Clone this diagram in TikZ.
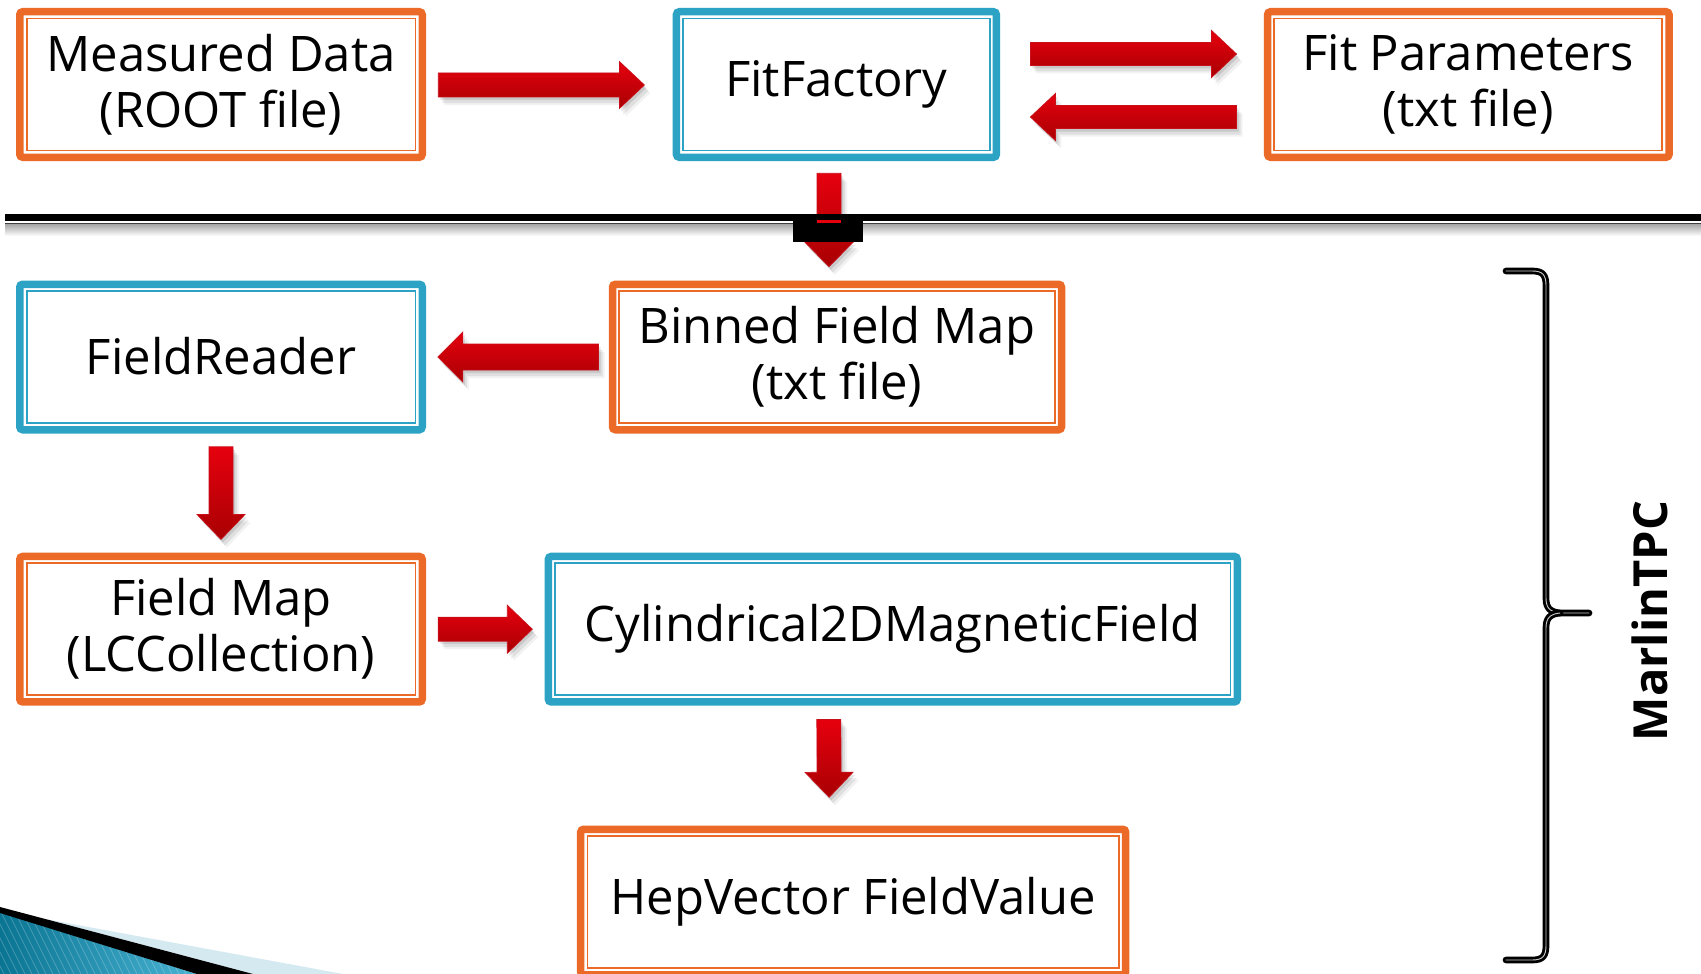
\documentclass[tikz,border=0pt]{standalone}
\usepackage{fontspec}
\setmainfont{Open Sans}
\usetikzlibrary{calc}
\definecolor{orng}{HTML}{EB6A27}
\definecolor{blu}{HTML}{2CA3C5}
\definecolor{redtop}{HTML}{E6000E}
\definecolor{redbot}{HTML}{A80003}
\definecolor{redline}{HTML}{C8101A}
\definecolor{teal1}{HTML}{0A7593}
\definecolor{teal2}{HTML}{48B2D2}
\definecolor{paleblue}{HTML}{D5E9F1}

\newcommand{\blockarrow}[4]{%
  % #1 start, #2 end, #3 shaft half width, #4 head half width
  \coordinate (ba-a) at #1;
  \coordinate (ba-b) at #2;
  \coordinate (ba-h) at ($(ba-b)!25pt!(ba-a)$);
  \foreach \sx/\sy/\op in {2/-3/0.10,4/-6/0.08,6/-8/0.05}{
  \fill[black, opacity=\op, transform canvas={shift={(\sx pt,\sy pt)}}]
    ($(ba-a)!#3pt!90:(ba-b)$) -- ($(ba-h)!#3pt!90:(ba-b)$) --
    ($(ba-h)!#4pt!90:(ba-b)$) -- (ba-b) --
    ($(ba-h)!#4pt!-90:(ba-b)$) -- ($(ba-h)!#3pt!-90:(ba-b)$) --
    ($(ba-a)!#3pt!-90:(ba-b)$) -- cycle;}
  \shade[arrowfill]
    ($(ba-a)!#3pt!90:(ba-b)$) -- ($(ba-h)!#3pt!90:(ba-b)$) --
    ($(ba-h)!#4pt!90:(ba-b)$) -- (ba-b) --
    ($(ba-h)!#4pt!-90:(ba-b)$) -- ($(ba-h)!#3pt!-90:(ba-b)$) --
    ($(ba-a)!#3pt!-90:(ba-b)$) -- cycle;
}

\begin{document}
\begin{tikzpicture}[x=1pt,y=-1pt,
  box/.style={draw=#1, line width=7.5pt, rounded corners=3pt, outer sep=0pt,
    inner sep=0pt, minimum height=145.5pt, align=center,
    font=\fontsize{49}{56}\selectfont},
  arrowfill/.style={top color=redtop, bottom color=redbot, draw=redline, line width=0.7pt, line join=miter},
  brace/.style={line width=2.9pt, double=white!80!black, double distance=0.9pt, line cap=round, line join=round}
]
\useasboundingbox (0,0) rectangle (1701,974);
\fill[white] (0,0) rectangle (1701,974);

% bottom-left decoration
\shade[left color=teal1, right color=teal2] (0,912) -- (197,974) -- (0,974) -- cycle;
\begin{scope}
  \clip (0,912) -- (197,974) -- (0,974) -- cycle;
  \foreach \i in {-40,-33,...,200}{
    \draw[white, opacity=0.22, line width=0.7pt] (\i,900) -- (\i+40,980);
  }
\end{scope}
\fill[paleblue] (45,919) -- (343,974) -- (253,974) -- cycle;
\fill[black] (0,907) -- (253,974) -- (197,974) -- (0,913) -- cycle;

% separator
\coordinate (sepL) at (5,217.5);
\coordinate (sepR) at (1701,217.5);
\shade[top color=black!35, bottom color=white] (5,224) rectangle (1701,236);
\draw[black, line width=7pt] (sepL) -- (sepR);
\draw[black!75, line width=1.8pt] ($(sepL)+(0,6)$) -- ($(sepR)+(0,6)$);

% boxes
\node[box=orng, minimum width=402.5pt] (md) at (221,84.5) {Measured Data\\(ROOT file)};
\node[box=blu, minimum width=320pt] (ff) at (836.4,84.5) {FitFactory};
\node[box=orng, minimum width=401.5pt] (fp) at (1468.3,84.5) {Fit Parameters\\(txt file)};
\node[box=blu, minimum width=402.5pt, text depth=0.24em] (fr) at (221,357) {FieldReader};
\node[box=orng, minimum width=449pt] (bfm) at (837,357) {Binned Field Map\\(txt file)};
\node[box=orng, minimum width=402.5pt] (fm) at (221,629.2) {Field Map\\(LCCollection)};
\node[box=blu, minimum width=689pt] (cyl) at (892.8,629.2) {Cylindrical2DMagneticField};
\node[box=orng, minimum width=545pt] (hep) at (853.2,902) {HepVector FieldValue};

\foreach \n/\c in {md/orng,ff/blu,fp/orng,fr/blu,bfm/orng,fm/orng,cyl/blu,hep/orng}{
  \draw[\c, line width=1.9pt] ([shift={(6.8,6.8)}]\n.north west) rectangle ([shift={(-6.8,-6.8)}]\n.south east);
}

% arrows
\blockarrow{($(md.east)+(16,0.5)$)}{($(ff.west)+(-32,0.5)$)}{12}{23.5}
\blockarrow{($(ff.east)+(34,-30.5)$)}{($(fp.west)+(-31,-30.5)$)}{11.5}{23.5}
\blockarrow{($(fp.west)+(-31,32.5)$)}{($(ff.east)+(34,32.5)$)}{11.5}{23.5}
\blockarrow{($(bfm.west)+(-14,0)$)}{($(fr.east)+(15.5,0)$)}{13}{25}
\blockarrow{($(fr.south)+(0,17)$)}{($(fm.north)+(0,-17)$)}{12}{24}
\blockarrow{($(fm.east)+(16,0)$)}{($(cyl.west)+(-16,0)$)}{12}{24}
\blockarrow{($(cyl.south)+(-64,17.5)$)}{($(hep.north)+(-24,-32)$)}{12}{24}
\blockarrow{($(ff.south)+(-7.4,16)$)}{($(bfm.north)+(-8,-17.5)$)}{12}{24.5}

% black blocks on separator where arrow crosses
\coordinate (blkA) at (793,214);
\coordinate (blkB) at (863,242);
\fill[black] (blkA) rectangle (blkB);
\fill[redtop] (817,220) rectangle (841,223);

% brace
\draw[brace] (1506,271) -- (1532,271) .. controls (1543,271) and (1546,275) .. (1546,286)
  -- (1546,598) .. controls (1546,608) and (1550,612) .. (1560,613) -- (1589,613);
\draw[brace] (1560,613) .. controls (1550,614) and (1546,618) .. (1546,628)
  -- (1546,945) .. controls (1546,956) and (1543,960) .. (1532,960) -- (1506,960);

\node[rotate=90, font=\fontsize{47}{50}\selectfont\bfseries, inner sep=0pt] (mtpc) at (1650,621) {MarlinTPC};
\end{tikzpicture}
\end{document}
